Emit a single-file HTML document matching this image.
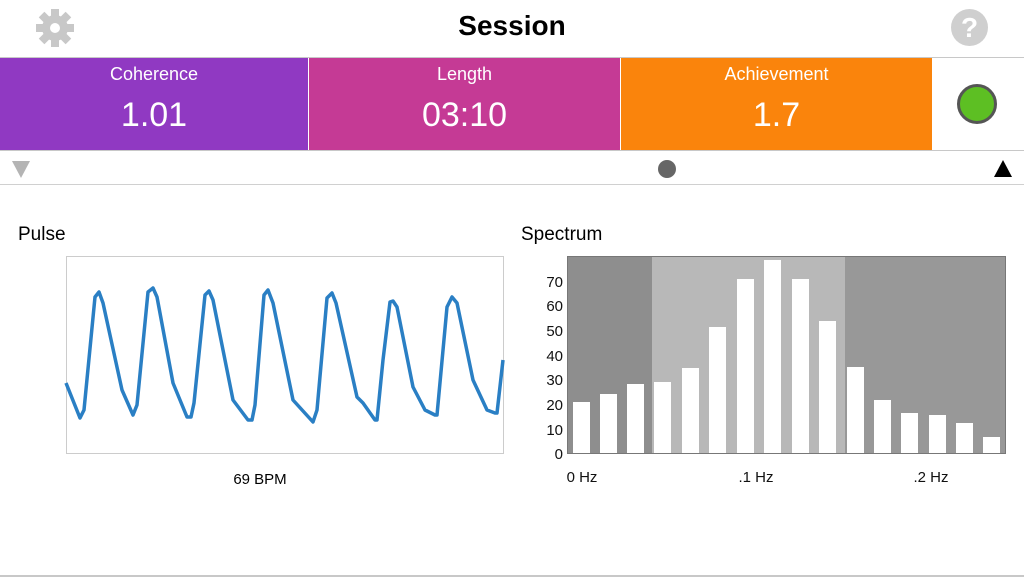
<!DOCTYPE html>
<html><head><meta charset="utf-8"><style>
*{margin:0;padding:0;box-sizing:border-box}
body{width:1024px;height:577px;background:#fff;font-family:"Liberation Sans",sans-serif;position:relative;overflow:hidden}
.a{position:absolute}
.cell{position:absolute;top:58px;height:92px;color:#fff;text-align:center}
.cell .l{position:absolute;top:6px;width:100%;font-size:18px}
.cell .v{position:absolute;top:38px;width:100%;font-size:34px}
</style></head><body>
<div class="a" style="left:0;top:10px;width:1024px;text-align:center;font-size:28px;font-weight:bold;color:#000">Session</div>
<svg class="a" style="left:34px;top:8px" width="42" height="40" viewBox="0 0 42 40">
<g fill="#c8c8c8" transform="translate(21,20)">
<circle r="13"/>
<g id="t"><rect x="-4" y="-19" width="8" height="8"/></g>
<use href="#t" transform="rotate(45)"/><use href="#t" transform="rotate(90)"/><use href="#t" transform="rotate(135)"/><use href="#t" transform="rotate(180)"/><use href="#t" transform="rotate(225)"/><use href="#t" transform="rotate(270)"/><use href="#t" transform="rotate(315)"/>
<circle r="5" fill="#fff"/></g></svg>
<div class="a" style="left:951px;top:9px;width:37px;height:37px;border-radius:50%;background:#cfcfcf;color:#fff;font-size:28px;font-weight:bold;text-align:center;line-height:37px">?</div>
<div class="a" style="left:0;top:57px;width:1024px;height:1px;background:#c8c8c8"></div>
<div class="cell" style="left:0;width:308px;background:#9039c2"><div class="l">Coherence</div><div class="v">1.01</div></div>
<div class="cell" style="left:309px;width:311px;background:#c53a95"><div class="l">Length</div><div class="v">03:10</div></div>
<div class="cell" style="left:621px;width:311px;background:#fa840c"><div class="l">Achievement</div><div class="v">1.7</div></div>
<div class="a" style="left:957px;top:84px;width:40px;height:40px;border-radius:50%;background:#5dbf23;border:3px solid #555"></div>
<div class="a" style="left:0;top:150px;width:1024px;height:1px;background:#c8c8c8"></div>
<div class="a" style="left:0;top:184px;width:1024px;height:1px;background:#d0d0d0"></div>
<svg class="a" style="left:0;top:150px" width="1024" height="34">
<polygon points="12,11 30,11 21,28" fill="#b4b4b4"/>
<circle cx="667" cy="19" r="9" fill="#666"/>
<polygon points="994,27 1012,27 1003,10" fill="#000"/>
</svg>
<div class="a" style="left:18px;top:224px;font-size:19px;color:#000">Pulse</div>
<div class="a" style="left:521px;top:224px;font-size:19px;color:#000">Spectrum</div>
<svg class="a" style="left:0;top:0" width="1024" height="577">
<rect x="66.5" y="256.5" width="437" height="197" fill="#fff" stroke="#ccc"/>
<polyline fill="none" stroke="#2a7fc4" stroke-width="3.5" stroke-linejoin="round" points="66,383 80,418 84,410 95,297 99,292 103,303 122,390 133,415 137,405 148,292 153,288 157,297 173,383 187,417 191,417 194,403 205,295 209,291 213,300 233,400 248,420 252,420 255,405 264,295 268,290 273,303 293,400 313,422 317,410 327,298 332,293 336,303 357,397 363,403 375,420 377,420 383,360 390,302 393,301 397,307 413,387 425,410 435,415 437,415 447,307 452,297 457,303 473,380 487,410 495,413 497,413 503,360"/>
<text x="260" y="484" font-size="15" text-anchor="middle" font-family="Liberation Sans">69 BPM</text>
<rect x="568" y="257" width="84" height="196" fill="#8e8e8e"/>
<rect x="652" y="257" width="193" height="196" fill="#b8b8b8"/>
<rect x="845" y="257" width="160" height="196" fill="#989898"/>
<rect x="567.5" y="256.5" width="438" height="197" fill="none" stroke="#777"/>
<g fill="#fff">
<rect x="573" y="402" width="17" height="51"/><rect x="600" y="394" width="17" height="59"/><rect x="627" y="384" width="17" height="69"/><rect x="654" y="382" width="17" height="71"/><rect x="682" y="368" width="17" height="85"/><rect x="709" y="327" width="17" height="126"/><rect x="737" y="279" width="17" height="174"/><rect x="764" y="260" width="17" height="193"/><rect x="792" y="279" width="17" height="174"/><rect x="819" y="321" width="17" height="132"/><rect x="847" y="367" width="17" height="86"/><rect x="874" y="400" width="17" height="53"/><rect x="901" y="413" width="17" height="40"/><rect x="929" y="415" width="17" height="38"/><rect x="956" y="423" width="17" height="30"/><rect x="983" y="437" width="17" height="16"/>
</g>
<g font-size="15" font-family="Liberation Sans" text-anchor="end" fill="#111">
<text x="563" y="459">0</text><text x="563" y="435">10</text><text x="563" y="410">20</text><text x="563" y="385">30</text><text x="563" y="361">40</text><text x="563" y="336">50</text><text x="563" y="311">60</text><text x="563" y="287">70</text>
</g>
<g font-size="15" font-family="Liberation Sans" text-anchor="middle" fill="#111">
<text x="582" y="482">0 Hz</text><text x="756" y="482">.1 Hz</text><text x="931" y="482">.2 Hz</text>
</g>
<rect x="0" y="575" width="1024" height="2" fill="#c8c8c8"/>
</svg>
</body></html>
